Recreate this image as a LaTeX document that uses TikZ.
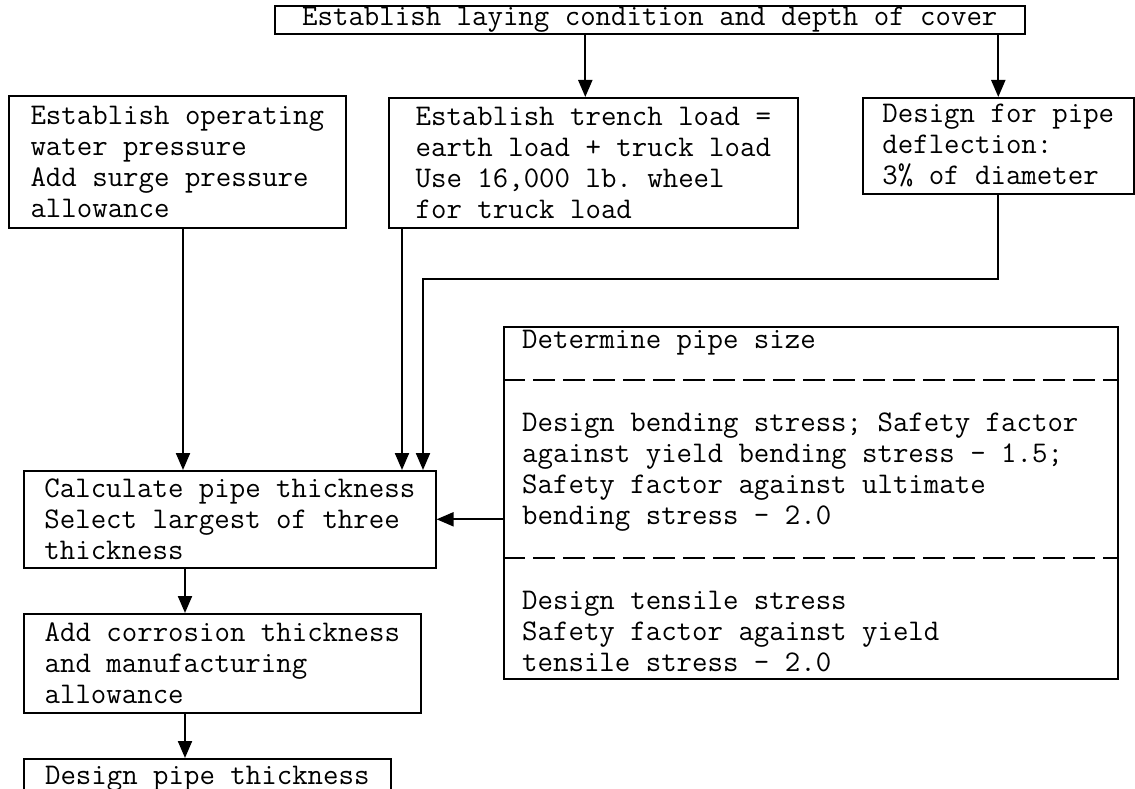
\documentclass[tikz,border=0pt]{standalone}
\usetikzlibrary{arrows.meta}
\newcommand{\typefont}{\ttfamily\frenchspacing\fontsize{30}{31}\selectfont}

\begin{document}
\begin{tikzpicture}[
x=1pt,y=-1pt,
box/.style={draw,line width=1.6pt,anchor=north west,inner xsep=0pt,inner ysep=0pt,
align=left,font=\typefont},
txt/.style={anchor=west,inner sep=0pt,align=left,font=\typefont},
arrow/.style={-{Triangle[length=17pt,width=14pt]},line width=2.1pt},
divider/.style={line width=2.2pt,dash pattern=on 22pt off 8pt}
]
\fill[white] (0,0) rectangle (1135,789);
\useasboundingbox (0,0) rectangle (1135,789);
\clip (0,0) rectangle (1135,789);

\node[box,minimum width=750,minimum height=28] (cover) at (274,5) {Establish laying condition and depth of cover};
\node[box,minimum width=337,minimum height=132] (pressure) at (8,95) {Establish operating\\water pressure\\Add surge pressure\\allowance};
\node[box,minimum width=409,minimum height=130] (trench) at (388,97) {Establish trench load =\\earth load + truck load\\Use 16,000 lb. wheel\\for truck load};
\node[box,minimum width=271,minimum height=96] (defl) at (862,97) {Design for pipe\\deflection:\\3\% of diameter};
\node[box,minimum width=412,minimum height=97] (calc) at (23,470) {Calculate pipe thickness\\Select largest of three\\thickness};
\node[box,minimum width=397,minimum height=99] (corr) at (23,613) {Add corrosion thickness\\and manufacturing\\allowance};
\node[box,minimum width=367,minimum height=40] (design) at (23,758) {Design pipe thickness};

% pipe size box with its three parts
\node[box,minimum width=614,minimum height=352] (pipe) at (503,326) {};
\coordinate (cut1) at (0,380);
\coordinate (cut2) at (0,558);
\draw[divider] (pipe.west |- cut1) -- (pipe.east |- cut1);
\draw[divider] (pipe.west |- cut2) -- (pipe.east |- cut2);
\node[txt] (psize) at (522,343) {Determine pipe size};
\node[txt] (pbend) at (522,472) {Design bending stress; Safety factor\\against yield bending stress - 1.5;\\Safety factor against ultimate\\bending stress - 2.0};
\node[txt] (ptens) at (522,632) {Design tensile stress\\Safety factor against yield\\tensile stress - 2.0};

\draw[arrow] ([xshift=-8]cover.south -| trench.north) -- ([xshift=-8]trench.north);
\draw[arrow] (cover.south -| defl.north) -- (defl.north);
\draw[arrow] ([xshift=175]pressure.south west) -- ([xshift=175]pressure.south west |- calc.north);
\draw[arrow] ([xshift=14]trench.south west) -- ([xshift=14]trench.south west |- calc.north);
\draw[arrow] (defl.south) -- ++(0,84) -| ([xshift=35]trench.south west |- calc.north);
\draw[arrow] (pipe.west |- calc.east) -- (calc.east);
\draw[arrow] ([xshift=162]calc.south west) -- ([xshift=162]calc.south west |- corr.north);
\draw[arrow] ([xshift=162]corr.south west) -- ([xshift=162]corr.south west |- design.north);
\end{tikzpicture}
\end{document}
